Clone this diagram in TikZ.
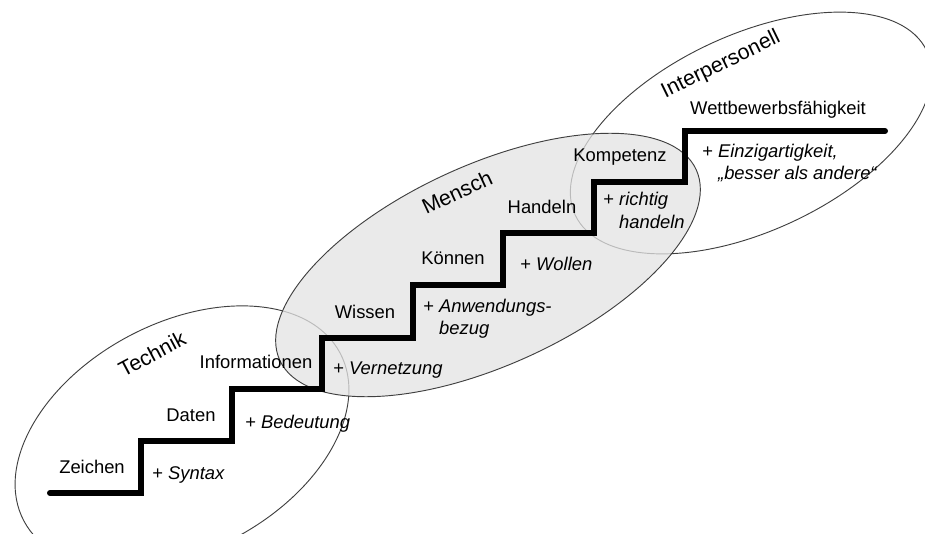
\documentclass[tikz,border=0pt]{standalone}
\usepackage{fontspec}
\setmainfont{Liberation Sans}
\tikzstyle{zone} = [draw=black!75, line width=0.7pt]
\tikzstyle{stair} = [line width=4.5pt, line cap=round, line join=miter]
\tikzstyle{level} = [anchor=base, inner sep=0pt]
\tikzstyle{plus} = [anchor=base west, inner sep=0pt, align=left]
\tikzstyle{area} = [inner sep=0pt, font=\fontsize{16}{19}\selectfont]

\begin{document}
\begin{tikzpicture}[x=0.75pt, y=0.75pt, font=\fontsize{13.8}{16.5}\selectfont]
\useasboundingbox (0,0) rectangle (925,533);
\clip (0,0) rectangle (925,533);

\draw [zone, rotate around={28:(182,96)}] (182,96) ellipse [x radius=179, y radius=114];
\draw [zone, rotate around={25:(751,400)}] (751,400) ellipse [x radius=194, y radius=98];
\draw [zone, fill=black!11, fill opacity=0.75, rotate around={24.6:(488,268)}] (488,268) ellipse [x radius=229, y radius=100];

\draw [stair] (50,40) -| (141,92) -| (232,144) -| (322,195) -| (413,248) -| (503,300) -| (594,351) -| (685,402) -- (885,402);

\node [area, rotate=28] (technik) at (152,179) {Technik};
\node [area, rotate=25] (mensch) at (457,341) {Mensch};
\node [area, rotate=26] (inter) at (721,468) {Interpersonell};

\node [level] (zeichen) at (92,60) {Zeichen};
\node [level] (daten) at (191,111.5) {Daten};
\node [level] (info) at (256,165) {Informationen};
\node [level] (wissen) at (365,215) {Wissen};
\node [level] (koennen) at (453,268) {Können};
\node [level] (handeln) at (542,320) {Handeln};
\node [level] (kompetenz) at (620,371.5) {Kompetenz};
\node [level] (wettbewerb) at (778,418) {Wettbewerbsfähigkeit};

\node [plus] (syntax) at (152,54) {+ \textit{Syntax}};
\node [plus] (bedeutung) at (245,105) {+ \textit{Bedeutung}};
\node [plus] (vernetzung) at (333,159) {+ \textit{Vernetzung}};
\node [plus] (anwendung) at (423,199) {+ \textit{Anwendungs-}\\\phantom{+ }\textit{bezug}};
\node [plus] (wollen) at (520,263) {+ \textit{Wollen}};
\node [plus] (richtig) at (603,305) {+ \textit{richtig}\\\phantom{+ }\textit{handeln}};
\node [plus] (einzig) at (702,353) {+ \textit{Einzigartigkeit,}\\\phantom{+ }\textit{„besser als andere“}};
\end{tikzpicture}
\end{document}
